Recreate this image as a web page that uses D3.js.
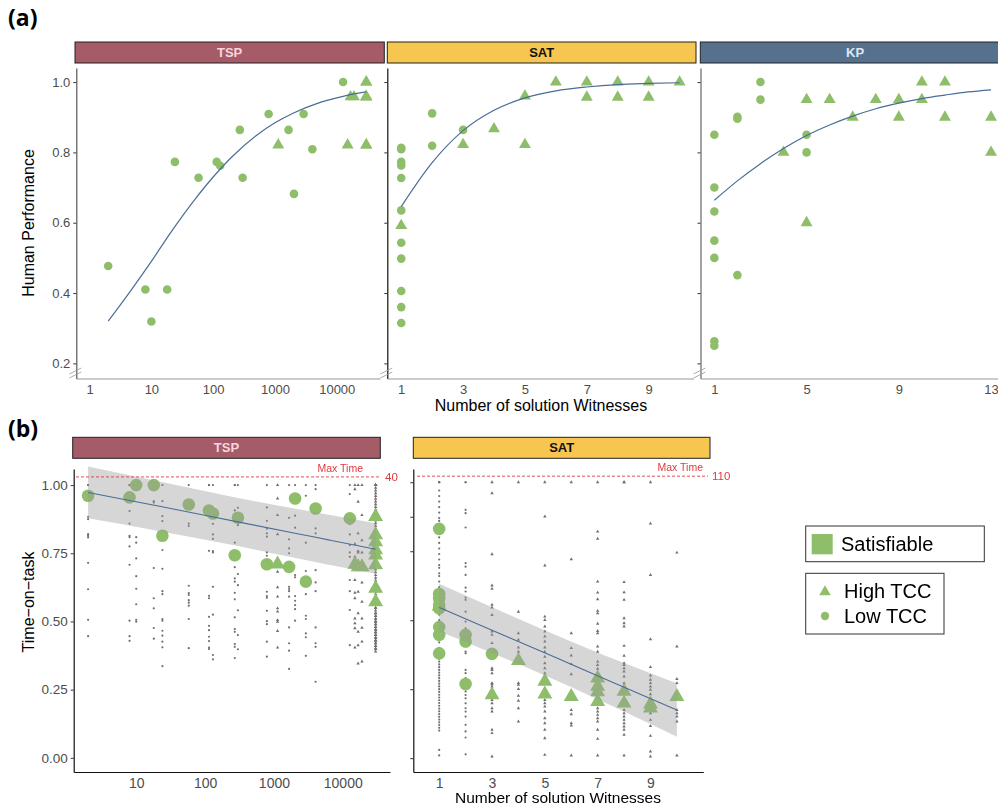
<!DOCTYPE html>
<html><head><meta charset="utf-8">
<script src="https://cdnjs.cloudflare.com/ajax/libs/d3/7.8.5/d3.min.js"></script>
<style>
body { margin: 0; background: #fff; }
svg { display: block; font-family: "Liberation Sans", Arial, sans-serif; }
</style></head>
<body><div id="chart"></div>
<script>
// ---- TSP instances: (a) performance and (b) time-on-task share the same instances
const tspWitness = [2, 8, 10, 18, 24, 58, 114, 130, 270, 300, 790, 1660, 2030, 2910, 4030, 12650,
	1130, 15000, 16700, 19000, 30000, 30000, 30000, 30000, 30000, 30000, 30000, 30000];
const tspTCC = ["L","L","L","L","L","L","L","L","L","L","L","L","L","L","L","L",
	"H","H","H","H","H","H","H","H","H","H","H","H"];
const tspPerf = [0.477, 0.41, 0.319, 0.41, 0.773, 0.728, 0.773, 0.762, 0.864, 0.728, 0.909, 0.864, 0.682, 0.909, 0.809, 1.0,
	0.821, 0.821, 0.958, 0.958, 1.0, 1.0, 0.958, 0.958, 0.958, 0.821, 0.821, 0.958];
const tspTime = [0.961, 0.955, 1.0, 1.0, 0.814, 0.929, 0.907, 0.896, 0.743, 0.880, 0.710, 0.700, 0.951, 0.646, 0.914, 0.878,
	0.710, 0.709, 0.700, 0.700, 0.884, 0.817, 0.792, 0.762, 0.743, 0.707, 0.621, 0.572];
const tspTrials = [
	[1.0, 1.0, 0.884, 0.875, 0.820, 0.814, 0.808, 0.715, 0.618, 0.506, 0.446],
	[1.0, 1.0, 0.905, 0.859, 0.814, 0.809, 0.775, 0.708, 0.503, 0.446, 0.429],
	[1.0, 0.809, 0.789, 0.731, 0.666, 0.620, 0.563, 0.506, 0.499],
	[1.0, 1.0, 0.941, 0.936, 0.696, 0.585, 0.548, 0.476, 0.437],
	[1.0, 0.941, 0.886, 0.868, 0.762, 0.693, 0.611, 0.600, 0.509, 0.503, 0.466, 0.448, 0.426, 0.405, 0.336],
	[1.0, 0.859, 0.850, 0.631, 0.604, 0.597, 0.578, 0.569, 0.558, 0.509, 0.402],
	[1.0, 1.0, 0.759, 0.594, 0.585, 0.517, 0.484, 0.468, 0.444, 0.428, 0.404, 0.399],
	[1.0, 0.858, 0.819, 0.803, 0.758, 0.753, 0.627, 0.525, 0.377, 0.361],
	[1.0, 1.0, 0.907, 0.789, 0.699, 0.658, 0.646, 0.605, 0.581, 0.515, 0.472, 0.462, 0.417, 0.407, 0.366],
	[1.0, 0.917, 0.853, 0.674, 0.633, 0.541, 0.450, 0.398],
	[1.0, 0.918, 0.869, 0.840, 0.823, 0.811, 0.753, 0.741, 0.609, 0.593, 0.587, 0.539, 0.501, 0.490, 0.426, 0.371],
	[1.0, 0.880, 0.801, 0.768, 0.750, 0.627, 0.619, 0.611, 0.591, 0.478, 0.420, 0.393, 0.326],
	[1.0, 0.888, 0.844, 0.670, 0.662, 0.593, 0.576, 0.560, 0.545, 0.503],
	[1.0, 0.961, 0.789, 0.685, 0.600, 0.521, 0.509, 0.456, 0.442, 0.374],
	[1.0, 0.985, 0.841, 0.823, 0.688, 0.643, 0.611, 0.478, 0.420, 0.407, 0.279],
	[1.0, 0.967, 0.857, 0.819, 0.780, 0.753, 0.737, 0.652, 0.611, 0.542, 0.413],
	[1.0, 0.951, 0.890, 0.820, 0.682, 0.625, 0.591, 0.548, 0.536, 0.505, 0.499, 0.465, 0.404],
	[1.0, 0.985, 0.878, 0.784, 0.737, 0.652, 0.605, 0.585, 0.511, 0.493, 0.475, 0.404],
	[1.0, 0.939, 0.823, 0.758, 0.753, 0.695, 0.609, 0.530, 0.462, 0.413, 0.346],
	[1.0, 0.890, 0.798, 0.753, 0.719, 0.643, 0.572, 0.511, 0.477, 0.426, 0.353],
	[1.0, 0.98, 0.93, 0.87, 0.80, 0.72, 0.66, 0.58, 0.52, 0.47, 0.44, 0.41],
	[1.0, 0.96, 0.90, 0.84, 0.77, 0.70, 0.63, 0.56, 0.51, 0.48, 0.45, 0.40],
	[1.0, 0.95, 0.89, 0.82, 0.75, 0.68, 0.61, 0.55, 0.50, 0.46, 0.43, 0.42],
	[1.0, 0.99, 0.91, 0.85, 0.78, 0.69, 0.62, 0.57, 0.53, 0.49, 0.45, 0.41],
	[1.0, 0.94, 0.88, 0.81, 0.74, 0.67, 0.60, 0.54, 0.50, 0.47, 0.44, 0.40],
	[1.0, 0.97, 0.86, 0.79, 0.71, 0.65, 0.59, 0.55, 0.51, 0.48, 0.46, 0.43],
	[1.0, 0.92, 0.83, 0.76, 0.64, 0.58, 0.53, 0.49, 0.46, 0.44, 0.42, 0.39],
	[1.0, 0.90, 0.80, 0.73, 0.63, 0.57, 0.52, 0.50, 0.47, 0.45, 0.43, 0.40]
];

// ---- SAT (a) performance
const satPerfX = [1,1,1,1,1,1,1,1,1,1,1, 2,2, 3, 1, 3, 4, 5,5, 6, 7,7, 8,8, 9,9, 10];
const satPerfTCC = ["L","L","L","L","L","L","L","L","L","L","L","L","L","L",
	"H","H","H","H","H","H","H","H","H","H","H","H","H"];
const satPerfY = [0.813, 0.809, 0.773, 0.763, 0.727, 0.635, 0.543, 0.498, 0.406, 0.360, 0.315, 0.911, 0.819, 0.864,
	0.592, 0.822, 0.867, 0.96, 0.822, 1.0, 1.0, 0.957, 1.0, 0.957, 1.0, 0.957, 1.0];

// ---- KP (a) performance
const kpX = [1,1,1,1,1,1,1, 2,2,2, 3,3, 5,5, 4, 5,5, 6, 7, 8, 9,9, 10,10, 11,11, 13,13];
const kpTCC = ["L","L","L","L","L","L","L","L","L","L","L","L","L","L",
	"H","H","H","H","H","H","H","H","H","H","H","H","H","H"];
const kpY = [0.85, 0.70, 0.632, 0.549, 0.50, 0.263, 0.25, 0.901, 0.896, 0.451, 1.0, 0.95, 0.85, 0.80,
	0.80, 0.95, 0.60, 0.95, 0.90, 0.95, 0.95, 0.90, 1.0, 0.95, 1.0, 0.90, 0.90, 0.80];

// ---- fitted curves (a)
const tspFitX = [2, 5, 10, 20, 50, 100, 200, 500, 1000, 2000, 5000, 10000, 20000, 30000];
const tspFitY = [0.32, 0.415, 0.49, 0.569, 0.665, 0.730, 0.787, 0.848, 0.884, 0.912, 0.940, 0.955, 0.967, 0.972];
const satFitX = [1, 2, 3, 4, 5, 6, 7, 8, 9, 10];
const satFitY = [0.646, 0.771, 0.862, 0.920, 0.955, 0.975, 0.986, 0.993, 0.996, 0.998];
const kpFitX = [1, 2, 3, 4, 5, 6, 7, 8, 9, 10, 11, 12, 13];
const kpFitY = [0.664, 0.719, 0.768, 0.811, 0.848, 0.878, 0.903, 0.924, 0.940, 0.953, 0.963, 0.972, 0.978];

// ---- SAT (b) time-on-task
const satTimeX = [1,1,1,1,1,1,1,1, 2,2,2, 3, 1, 3, 4, 5,5, 6, 7,7,7,7, 8,8, 9,9, 10];
const satTimeTCC = ["L","L","L","L","L","L","L","L","L","L","L","L",
	"H","H","H","H","H","H","H","H","H","H","H","H","H","H","H"];
const satTimeY = [0.831, 0.595, 0.580, 0.556, 0.543, 0.475, 0.447, 0.380, 0.447, 0.423, 0.269, 0.378,
	0.55, 0.229, 0.353, 0.278, 0.232, 0.223, 0.29, 0.26, 0.24, 0.205, 0.242, 0.199, 0.196, 0.181, 0.223];
const satTrialX = [1, 2, 3, 4, 5, 6, 7, 8, 9, 10];
const satTrialTCC = ["L", "L", "H", "H", "H", "H", "H", "H", "H", "H"];
const satTrials = [
	[1.0, 1.0, 1.0, 1.0, 0.97, 0.95, 0.93, 0.91, 0.89, 0.87, 0.86, 0.84, 0.82, 0.80, 0.78, 0.76, 0.74, 0.72, 0.70, 0.69,
	 0.67, 0.66, 0.64, 0.62, 0.60, 0.58, 0.56, 0.54, 0.52, 0.50, 0.48, 0.46, 0.44, 0.42, 0.40, 0.38, 0.36, 0.35, 0.34,
	 0.33, 0.32, 0.31, 0.30, 0.29, 0.28, 0.27, 0.26, 0.25, 0.24, 0.23, 0.22, 0.21, 0.20, 0.19, 0.18, 0.17, 0.16, 0.15,
	 0.14, 0.13, 0.12, 0.11, 0.10, 0.03, 0.01],
	[1.0, 1.0, 0.90, 0.888, 0.836, 0.707, 0.694, 0.664, 0.618, 0.604, 0.582, 0.574, 0.531, 0.495, 0.471, 0.435, 0.405,
	 0.386, 0.380, 0.320, 0.308, 0.290, 0.242, 0.229, 0.217, 0.199, 0.181, 0.169, 0.151, 0.121, 0.097, 0.075, 0.014],
	[1.0, 0.96, 0.739, 0.626, 0.614, 0.556, 0.546, 0.519, 0.459, 0.447, 0.417, 0.326, 0.320, 0.308, 0.272, 0.268,
	 0.260, 0.211, 0.199, 0.181, 0.169, 0.103, 0.091, 0.006],
	[1.0, 0.531, 0.453, 0.429, 0.401, 0.386, 0.368, 0.272, 0.266, 0.251, 0.226, 0.208, 0.181, 0.133],
	[1.0, 0.876, 0.698, 0.513, 0.501, 0.477, 0.459, 0.441, 0.423, 0.401, 0.386, 0.368, 0.344, 0.326, 0.308, 0.211,
	 0.199, 0.187, 0.169, 0.145, 0.127, 0.103, 0.072, 0.012],
	[1.0, 0.721, 0.453, 0.399, 0.372, 0.341, 0.304, 0.175, 0.159, 0.127, 0.118, 0.01],
	[1.0, 0.821, 0.795, 0.640, 0.600, 0.576, 0.534, 0.525, 0.487, 0.461, 0.453, 0.405, 0.386, 0.350, 0.338, 0.324,
	 0.308, 0.292, 0.278, 0.229, 0.181, 0.169, 0.157, 0.145, 0.133, 0.103, 0.070, 0.01],
	[1.0, 1.0, 0.638, 0.601, 0.574, 0.507, 0.489, 0.477, 0.407, 0.371, 0.344, 0.338, 0.326, 0.314, 0.296, 0.272,
	 0.217, 0.193, 0.175, 0.163, 0.151, 0.139, 0.127, 0.115, 0.103, 0.085, 0.01],
	[1.0, 0.850, 0.664, 0.431, 0.330, 0.300, 0.284, 0.272, 0.260, 0.248, 0.232, 0.211, 0.191, 0.163, 0.139, 0.117,
	 0.081, 0.024, 0.006],
	[0.745, 0.405, 0.287, 0.272, 0.220, 0.175, 0.163, 0.151, 0.133, 0.01]
];

// ---- linear fits with confidence bands (b)
const tspBandX = [2, 20, 300, 3000, 30000];
const tspBandFit = [0.973, 0.924, 0.865, 0.815, 0.765];
const tspBandLo = [0.878, 0.833, 0.777, 0.724, 0.675];
const tspBandHi = [1.068, 1.015, 0.953, 0.906, 0.860];
const satBandX = [1, 3, 5.5, 8, 10];
const satBandFit = [0.546, 0.464, 0.361, 0.257, 0.175];
const satBandLo = [0.460, 0.381, 0.279, 0.169, 0.078];
const satBandHi = [0.632, 0.547, 0.443, 0.345, 0.272];

const maxTimeLabels = ["40", "110"];

// ---- drawing
const green = "#8fbe6a", fitCol = "#4a6d96", tickCol = "#4d4d4d", red = "#e0393e";
const svg = d3.select("#chart").append("svg").attr("width", 998).attr("height", 809);

function strip(x0, x1, y0, y1, fill, label, col)	{
	svg.append("rect").attr("x", x0).attr("y", y0).attr("width", x1 - x0).attr("height", y1 - y0)
		.attr("fill", fill).attr("stroke", "#222").attr("stroke-width", 1);
	svg.append("text").attr("x", (x0 + x1) / 2).attr("y", (y0 + y1) / 2 + 4.5).attr("text-anchor", "middle")
		.attr("font-size", 13).attr("font-weight", "bold").attr("fill", col).text(label);
}

function points(g, pts, x, y, r, area, fill)	{
	g.selectAll(null).data(pts.filter(p => p.tcc === "L")).join("circle")
		.attr("cx", p => x(p.x)).attr("cy", p => y(p.y)).attr("r", r).attr("fill", fill);
	g.selectAll(null).data(pts.filter(p => p.tcc === "H")).join("path")
		.attr("d", d3.symbol(d3.symbolTriangle, area))
		.attr("transform", p => `translate(${x(p.x)},${y(p.y)})`).attr("fill", fill);
}

function leftAxis(y, x0, ticks, fmt, col, labels)	{
	const ax = d3.axisLeft(y).tickValues(ticks).tickSize(3).tickSizeOuter(0)
		.tickFormat(labels ? d3.format(fmt) : "");
	const g = svg.append("g").attr("transform", `translate(${x0},0)`).call(ax);
	g.select(".domain").attr("stroke", col).attr("stroke-width", 1.2);
	g.selectAll(".tick line").attr("stroke", "#333");
	g.selectAll(".tick text").attr("fill", tickCol).attr("font-size", labels === 2 ? 13.5 : 13)
		.attr("font-family", "Liberation Sans, Arial, sans-serif");
	return g;
}

function bottomAxis(x, y0, ticks, col, fs)	{
	const ax = d3.axisBottom(x).tickValues(ticks).tickSize(0).tickSizeOuter(0).tickPadding(6)
		.tickFormat(d3.format("d"));
	const g = svg.append("g").attr("transform", `translate(0,${y0})`).call(ax);
	g.select(".domain").attr("stroke", col).attr("stroke-width", 1.2);
	g.selectAll(".tick text").attr("fill", tickCol).attr("font-size", fs)
		.attr("font-family", "Liberation Sans, Arial, sans-serif");
}

function breakMark(x0, y0)	{
	[0, 4].forEach(o => svg.append("line")
		.attr("x1", x0 - 7).attr("y1", y0 - 2 + o).attr("x2", x0 + 5).attr("y2", y0 - 8 + o)
		.attr("stroke", "#999").attr("stroke-width", 0.8));
}

// ===== (a)
svg.append("text").attr("x", 8).attr("y", 26).attr("font-family", "Open Sans, sans-serif")
	.attr("font-weight", "bold").attr("font-size", 23).text("(a)");

const ya = d3.scaleLinear([0.157, 1.04], [378.5, 68]);
const xTspA = d3.scaleLog([Math.pow(10, -0.215), Math.pow(10, 4.70)], [76.3, 380]);
const xSatA = d3.scaleLinear([0.55, 10.45], [387.3, 693.5]);
const xKpA = d3.scaleLinear([0.4, 13.6], [700.5, 1004.9]);
const yTicksA = [0.2, 0.4, 0.6, 0.8, 1.0];

strip(75, 384.3, 42, 63, "#a65b69", "TSP", "#f9d5dc");
strip(387.3, 696, 42, 63, "#f6c651", "SAT", "#111");
strip(700.3, 1010, 42, 63, "#56718e", "KP", "#dbe7f4");

leftAxis(ya, 76.3, yTicksA, ".1f", "#555", 1);
leftAxis(ya, 387.3, yTicksA, ".1f", "#111", 0);
leftAxis(ya, 700.5, yTicksA, ".1f", "#666", 0);
bottomAxis(xTspA, 378.5, [1, 10, 100, 1000, 10000], "#999", 13);
bottomAxis(xSatA, 378.5, [1, 3, 5, 7, 9], "#999", 13);
bottomAxis(xKpA, 378.5, [1, 5, 9, 13], "#999", 13);
breakMark(76.3, 376);
breakMark(387.3, 376);
breakMark(700.5, 376);

const gA = svg.append("g");
points(gA, tspWitness.map((x, i) => ({ x: x, y: tspPerf[i], tcc: tspTCC[i] })), xTspA, ya, 4.3, 62, green);
points(gA, satPerfX.map((x, i) => ({ x: x, y: satPerfY[i], tcc: satPerfTCC[i] })), xSatA, ya, 4.3, 62, green);
points(gA, kpX.map((x, i) => ({ x: x, y: kpY[i], tcc: kpTCC[i] })), xKpA, ya, 4.3, 62, green);

[[tspFitX, tspFitY, xTspA], [satFitX, satFitY, xSatA], [kpFitX, kpFitY, xKpA]].forEach(([fx, fy, xs]) => {
	gA.append("path").attr("fill", "none").attr("stroke", fitCol).attr("stroke-width", 1.2)
		.attr("d", d3.line().x(i => xs(fx[i])).y(i => ya(fy[i])).curve(d3.curveMonotoneX)(d3.range(fx.length)));
});

svg.append("text").attr("transform", "translate(34,223) rotate(-90)").attr("text-anchor", "middle")
	.attr("font-size", 16).text("Human Performance");
svg.append("text").attr("x", 541).attr("y", 411).attr("text-anchor", "middle")
	.attr("font-size", 16).text("Number of solution Witnesses");

// ===== (b)
svg.append("text").attr("x", 8).attr("y", 437).attr("font-family", "Open Sans, sans-serif")
	.attr("font-weight", "bold").attr("font-size", 23).text("(b)");

const yTspB = d3.scaleLinear([-0.052, 1.059], [772, 469]);
const ySatB = d3.scaleLinear([-0.05, 1.048], [772, 469]);
const xTspB = d3.scaleLog([Math.pow(10, 0.092), Math.pow(10, 4.686)], [73.7, 390]);
const xSatB = d3.scaleLinear([0.02, 11], [413.3, 703.3]);

strip(72.7, 380.3, 437.3, 458.3, "#a65b69", "TSP", "#f9d5dc");
strip(413.3, 710, 437.3, 458.3, "#f6c651", "SAT", "#111");

leftAxis(yTspB, 73.7, [0, 0.25, 0.5, 0.75, 1.0], ".2f", "#111", 2);
leftAxis(ySatB, 413.3, [0, 0.25, 0.5, 0.75, 0.875, 1.0], ".2f", "#111", 0);
bottomAxis(xTspB, 772, [10, 100, 1000, 10000], "#111", 14);
bottomAxis(xSatB, 772, [1, 3, 5, 7, 9], "#111", 14);

const gB = svg.append("g");
// individual trials
const tspTrialPts = tspTrials.flatMap((arr, i) => arr.map(v => ({ x: tspWitness[i], y: v, tcc: tspTCC[i] })));
const satTrialPts = satTrials.flatMap((arr, i) => arr.map(v => ({ x: satTrialX[i], y: v, tcc: satTrialTCC[i] })));
const gT = gB.append("g").attr("opacity", 0.6);
points(gT, tspTrialPts, xTspB, yTspB, 1.1, 5, "#111");
points(gT, satTrialPts, xSatB, ySatB, 1.1, 5, "#111");

// instance means
points(gB, tspWitness.map((x, i) => ({ x: x, y: tspTime[i], tcc: tspTCC[i] })), xTspB, yTspB, 6.3, 97, green);
points(gB, satTimeX.map((x, i) => ({ x: x, y: satTimeY[i], tcc: satTimeTCC[i] })), xSatB, ySatB, 6.3, 97, green);

// confidence bands + fits
[[tspBandX, tspBandFit, tspBandLo, tspBandHi, xTspB, yTspB], [satBandX, satBandFit, satBandLo, satBandHi, xSatB, ySatB]]
.forEach(([bx, fit, lo, hi, xs, ys]) => {
	const idx = d3.range(bx.length);
	gB.append("path").attr("fill", "#999").attr("fill-opacity", 0.4)
		.attr("d", d3.area().x(i => xs(bx[i])).y0(i => ys(lo[i])).y1(i => ys(hi[i])).curve(d3.curveMonotoneX)(idx));
	gB.append("path").attr("fill", "none").attr("stroke", fitCol).attr("stroke-width", 1.1)
		.attr("d", d3.line().x(i => xs(bx[i])).y(i => ys(fit[i])).curve(d3.curveMonotoneX)(idx));
});

// max time lines
[[yTspB(1.03), 76, 380, 363, 385, maxTimeLabels[0]], [ySatB(1.022), 417, 708, 703, 712, maxTimeLabels[1]]]
.forEach(([yy, x0, x1, xm, xl, lab]) => {
	svg.append("line").attr("x1", x0).attr("x2", x1).attr("y1", yy).attr("y2", yy)
		.attr("stroke", red).attr("stroke-width", 0.9).attr("stroke-dasharray", "3,2");
	svg.append("text").attr("x", xm).attr("y", yy - 5).attr("text-anchor", "end")
		.attr("font-size", 10.5).attr("fill", red).text("Max Time");
	svg.append("text").attr("x", xl).attr("y", yy + 4).attr("font-size", 11.5).attr("fill", red).text(lab);
});

svg.append("text").attr("transform", "translate(34,602) rotate(-90)").attr("text-anchor", "middle")
	.attr("font-size", 16).text("Time\u2212on\u2212task");
svg.append("text").attr("x", 558).attr("y", 803).attr("text-anchor", "middle")
	.attr("font-size", 15.5).text("Number of solution Witnesses");

// ===== legend
const lg = svg.append("g");
lg.append("rect").attr("x", 805.7).attr("y", 526).attr("width", 178.6).attr("height", 35.7)
	.attr("fill", "#fff").attr("stroke", "#333");
lg.append("rect").attr("x", 811.7).attr("y", 534).attr("width", 21).attr("height", 20.3).attr("fill", green);
lg.append("text").attr("x", 841).attr("y", 551).attr("font-size", 20).text("Satisfiable");
lg.append("rect").attr("x", 805.7).attr("y", 573.3).attr("width", 138.3).attr("height", 60.7)
	.attr("fill", "#fff").attr("stroke", "#333");
lg.append("path").attr("d", d3.symbol(d3.symbolTriangle, 58)).attr("transform", "translate(825,592)").attr("fill", green);
lg.append("circle").attr("cx", 825).attr("cy", 616).attr("r", 4.2).attr("fill", green);
lg.append("text").attr("x", 844).attr("y", 598).attr("font-size", 20).text("High TCC");
lg.append("text").attr("x", 844).attr("y", 623).attr("font-size", 20).text("Low TCC");
</script>
</body></html>
